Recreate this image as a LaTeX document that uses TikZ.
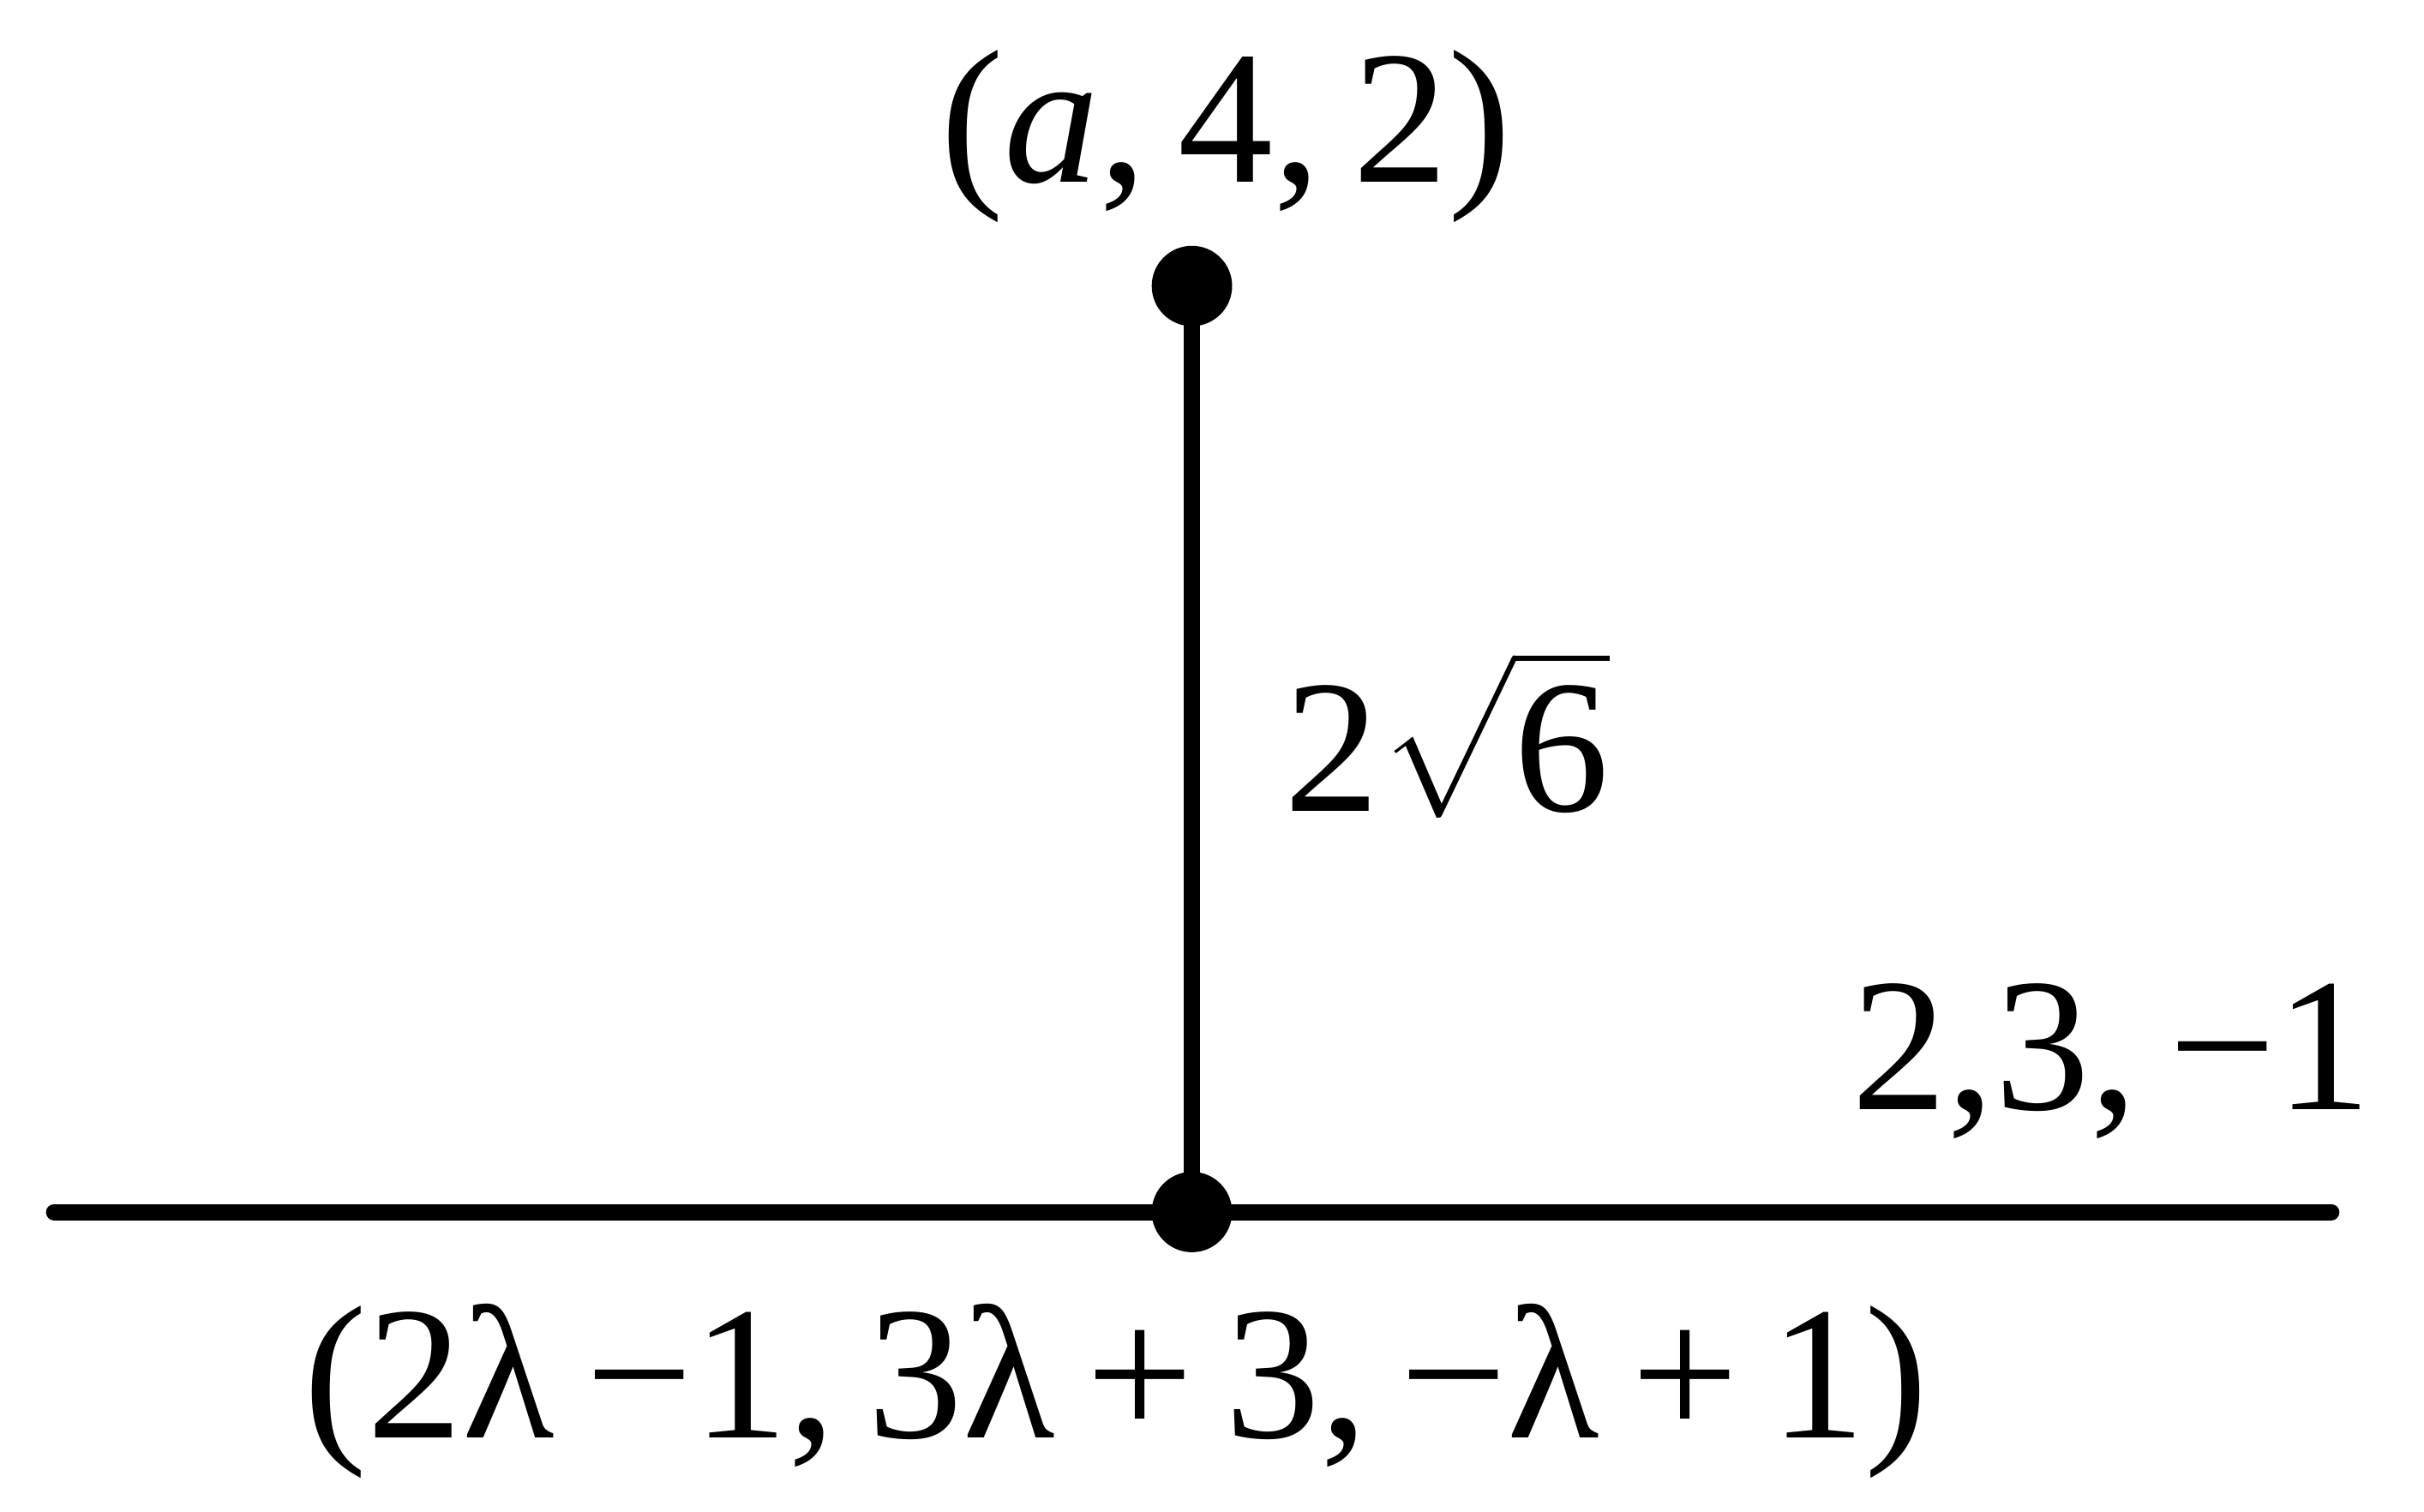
\documentclass[tikz,border=0pt]{standalone}
\usepackage{amsmath}
\usepackage{fontspec}
\setmainfont{LiberationSerif-Regular.ttf}[ItalicFont=LiberationSerif-Italic.ttf]
\begin{document}
\begin{tikzpicture}[font=\fontsize{35}{40}\selectfont]
\useasboundingbox (0,0) rectangle (15.68,9.78);
\coordinate (L) at (0.35,1.94);
\coordinate (R) at (15.08,1.94);
\draw[line width=3pt, line cap=round] (L) -- (R);
\node (P) at (7.71,1.94)[circle,fill,inner sep=0pt,minimum size=0.52cm]{};
\node (A) at (7.71,7.93)[circle,fill,inner sep=0pt,minimum size=0.52cm]{};
\draw[line width=2.9pt] (A.center) -- (P.center);
\node (topl) at (7.93,8.60)[anchor=base,inner sep=0pt]{(\textit{a},\,4,\,2)};
\node (dist) at (8.30,4.53)[anchor=base west,inner sep=0pt]{$\text{2}\sqrt{\rule{0pt}{0.9cm}\text{6}}$};
\node (dir) at (13.66,2.60)[anchor=base,inner sep=0pt]{2,3,\,−1};
\node (foot) at (7.22,0.48)[anchor=base,inner sep=0pt]{(2λ\,−1,\,3λ\,+\,3,\,−λ\,+\,1)};
\end{tikzpicture}
\end{document}
